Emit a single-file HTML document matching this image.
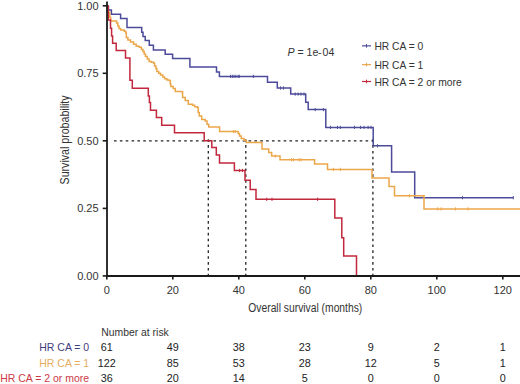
<!DOCTYPE html>
<html><head><meta charset="utf-8"><style>
html,body{margin:0;padding:0;background:#fff;}
body{width:520px;height:384px;overflow:hidden;font-family:"Liberation Sans",sans-serif;}
svg{display:block;}
</style></head><body>
<svg width="520" height="384" viewBox="0 0 520 384">
<rect width="520" height="384" fill="#fff"/>
<g stroke="#222" stroke-width="1.3" stroke-dasharray="2.6 3.25" fill="none">
<line x1="114" y1="140.8" x2="373" y2="140.8"/>
<line x1="208.3" y1="139.2" x2="208.3" y2="275"/>
<line x1="245.8" y1="139.2" x2="245.8" y2="275"/>
<line x1="372.9" y1="139.2" x2="372.9" y2="275"/>
</g>
<g fill="none" stroke-width="1.5" stroke-linejoin="miter">
<path d="M107,5.9 H108.4 V9.9 H111.4 V14.3 H120.6 V18.4 H127 V27.6 H141.7 V32.3 H143 V36.4 H145.2 V40.5 H149.3 V45.2 H153.4 V49.9 H165.2 V54.3 H172.6 V58.5 H189.9 V67 H216.5 V72 H219.4 V76.4 H267.5 V82.3 H277.3 V88 H290.7 V94.1 H305.7 V102.2 H308.2 V109.6 H325.8 V127.4 H373.2 V145.8 H391.6 V171.9 H414.7 V197.7 H513.3" stroke="#4c4b9a"/>
<path d="M107,5.9 H108.2 V12.3 H109.8 V17.3 H110.7 V20.9 H116.6 V23 H117.8 V26 H119 V28.5 H120.6 V30 H124.2 V31.2 H125.8 V33 H126.3 V37.4 H127.9 V40 H130.5 V42.1 H133.6 V44.2 H136.2 V46.2 H139.3 V47.3 H141.4 V49.4 H143 V51.5 H144.2 V54 H145.5 V56.4 H147.3 V59.1 H149.1 V61.4 H151.4 V62.3 H153.7 V63.2 H154.6 V66 H156 V68.7 H156.9 V71.4 H158.7 V73.2 H160.5 V75.1 H162.8 V76.9 H164.6 V78.7 H166.9 V80.1 H169.2 V80.6 H170.3 V84 H170.8 V86.5 H173.2 V88.5 H175.3 V91.6 H181.6 V91.8 H182.6 V97.4 H185.2 V100.5 H188.3 V104.2 H192.5 V105.2 H194.6 V106.8 H197.5 V107.8 H198.2 V112.6 H199.3 V116.1 H201.7 V119.6 H205.2 V121 H207 V124.3 H208.7 V126.9 H219.6 V131.5 H238.2 V133.5 H239.5 V136 H241.2 V138.4 H244 V140.3 H246.3 V142.4 H262 V149.1 H268.7 V152.6 H271.7 V156.1 H280 V159.8 H314.6 V164 H327.5 V169.4 H372 V177.9 H389 V186.4 H394.5 V195.8 H424 V208.9 H520 V208.9" stroke="#eca64a"/>
<path d="M107,5.9 H108.3 V20 H110.5 V28.2 H111.6 V36 H112.6 V43.2 H116.2 V50.5 H125.5 V58.1 H129.9 V80.2 H132.3 V88.2 H148.3 V96.1 H149.4 V102.6 H150.5 V110.2 H156.4 V117.6 H161.7 V125.3 H174.5 V132.7 H204.2 V140.8 H211.8 V147.5 H216.3 V155 H219.5 V163 H234.4 V170.5 H245 V180.2 H250.2 V189.6 H256 V199.3 H334.8 V218 H341.8 V237.7 H343.7 V256 H356.5 V275.7" stroke="#c2283c"/>
<line x1="239.6" y1="168.9" x2="239.6" y2="172.1" stroke="#c2283c" stroke-width="1"/><line x1="242.5" y1="168.9" x2="242.5" y2="172.1" stroke="#c2283c" stroke-width="1"/><line x1="266.7" y1="197.70000000000002" x2="266.7" y2="200.9" stroke="#c2283c" stroke-width="1"/><line x1="272" y1="197.70000000000002" x2="272" y2="200.9" stroke="#c2283c" stroke-width="1"/><line x1="317.6" y1="197.70000000000002" x2="317.6" y2="200.9" stroke="#c2283c" stroke-width="1"/><line x1="233.4" y1="129.9" x2="233.4" y2="133.1" stroke="#eca64a" stroke-width="1"/><line x1="235.2" y1="129.9" x2="235.2" y2="133.1" stroke="#eca64a" stroke-width="1"/><line x1="275.2" y1="154.5" x2="275.2" y2="157.7" stroke="#eca64a" stroke-width="1"/><line x1="291.5" y1="158.20000000000002" x2="291.5" y2="161.4" stroke="#eca64a" stroke-width="1"/><line x1="293.5" y1="158.20000000000002" x2="293.5" y2="161.4" stroke="#eca64a" stroke-width="1"/><line x1="299.2" y1="158.20000000000002" x2="299.2" y2="161.4" stroke="#eca64a" stroke-width="1"/><line x1="301.2" y1="158.20000000000002" x2="301.2" y2="161.4" stroke="#eca64a" stroke-width="1"/><line x1="333.4" y1="167.8" x2="333.4" y2="171.0" stroke="#eca64a" stroke-width="1"/><line x1="340.4" y1="167.8" x2="340.4" y2="171.0" stroke="#eca64a" stroke-width="1"/><line x1="409.4" y1="194.20000000000002" x2="409.4" y2="197.4" stroke="#eca64a" stroke-width="1"/><line x1="437.7" y1="207.3" x2="437.7" y2="210.5" stroke="#eca64a" stroke-width="1"/><line x1="441.1" y1="207.3" x2="441.1" y2="210.5" stroke="#eca64a" stroke-width="1"/><line x1="455.6" y1="207.3" x2="455.6" y2="210.5" stroke="#eca64a" stroke-width="1"/><line x1="468" y1="207.3" x2="468" y2="210.5" stroke="#eca64a" stroke-width="1"/><line x1="230.5" y1="74.80000000000001" x2="230.5" y2="78.0" stroke="#4c4b9a" stroke-width="1"/><line x1="232.3" y1="74.80000000000001" x2="232.3" y2="78.0" stroke="#4c4b9a" stroke-width="1"/><line x1="234" y1="74.80000000000001" x2="234" y2="78.0" stroke="#4c4b9a" stroke-width="1"/><line x1="235.8" y1="74.80000000000001" x2="235.8" y2="78.0" stroke="#4c4b9a" stroke-width="1"/><line x1="238.1" y1="74.80000000000001" x2="238.1" y2="78.0" stroke="#4c4b9a" stroke-width="1"/><line x1="239.3" y1="74.80000000000001" x2="239.3" y2="78.0" stroke="#4c4b9a" stroke-width="1"/><line x1="253.4" y1="74.80000000000001" x2="253.4" y2="78.0" stroke="#4c4b9a" stroke-width="1"/><line x1="280.5" y1="86.4" x2="280.5" y2="89.6" stroke="#4c4b9a" stroke-width="1"/><line x1="283.4" y1="86.4" x2="283.4" y2="89.6" stroke="#4c4b9a" stroke-width="1"/><line x1="295.2" y1="92.5" x2="295.2" y2="95.69999999999999" stroke="#4c4b9a" stroke-width="1"/><line x1="298.1" y1="92.5" x2="298.1" y2="95.69999999999999" stroke="#4c4b9a" stroke-width="1"/><line x1="301" y1="92.5" x2="301" y2="95.69999999999999" stroke="#4c4b9a" stroke-width="1"/><line x1="304" y1="92.5" x2="304" y2="95.69999999999999" stroke="#4c4b9a" stroke-width="1"/><line x1="315.2" y1="108.0" x2="315.2" y2="111.19999999999999" stroke="#4c4b9a" stroke-width="1"/><line x1="323.4" y1="108.0" x2="323.4" y2="111.19999999999999" stroke="#4c4b9a" stroke-width="1"/><line x1="330.5" y1="125.80000000000001" x2="330.5" y2="129.0" stroke="#4c4b9a" stroke-width="1"/><line x1="337.5" y1="125.80000000000001" x2="337.5" y2="129.0" stroke="#4c4b9a" stroke-width="1"/><line x1="340.4" y1="125.80000000000001" x2="340.4" y2="129.0" stroke="#4c4b9a" stroke-width="1"/><line x1="354.5" y1="125.80000000000001" x2="354.5" y2="129.0" stroke="#4c4b9a" stroke-width="1"/><line x1="360.5" y1="125.80000000000001" x2="360.5" y2="129.0" stroke="#4c4b9a" stroke-width="1"/><line x1="364" y1="125.80000000000001" x2="364" y2="129.0" stroke="#4c4b9a" stroke-width="1"/><line x1="368.1" y1="125.80000000000001" x2="368.1" y2="129.0" stroke="#4c4b9a" stroke-width="1"/><line x1="371" y1="125.80000000000001" x2="371" y2="129.0" stroke="#4c4b9a" stroke-width="1"/><line x1="377.5" y1="144.20000000000002" x2="377.5" y2="147.4" stroke="#4c4b9a" stroke-width="1"/><line x1="462.5" y1="196.1" x2="462.5" y2="199.29999999999998" stroke="#4c4b9a" stroke-width="1"/><line x1="513.3" y1="196.1" x2="513.3" y2="199.29999999999998" stroke="#4c4b9a" stroke-width="1"/>
</g>
<g stroke="#1a1a1a" stroke-width="2" fill="none">
<line x1="107" y1="1.5" x2="107" y2="276.6" stroke-width="1.8"/>
<line x1="106" y1="275.9" x2="520" y2="275.9"/>
</g><g stroke="#1a1a1a" stroke-width="1.6">
<line x1="102.7" y1="5.8" x2="107" y2="5.8"/>
<line x1="102.7" y1="73.3" x2="107" y2="73.3"/>
<line x1="102.7" y1="140.8" x2="107" y2="140.8"/>
<line x1="102.7" y1="208.4" x2="107" y2="208.4"/>
<line x1="102.7" y1="275.9" x2="107" y2="275.9"/>
<line x1="106.8" y1="275.6" x2="106.8" y2="279.6"/>
<line x1="172.8" y1="275.6" x2="172.8" y2="279.6"/>
<line x1="238.8" y1="275.6" x2="238.8" y2="279.6"/>
<line x1="304.8" y1="275.6" x2="304.8" y2="279.6"/>
<line x1="370.8" y1="275.6" x2="370.8" y2="279.6"/>
<line x1="436.8" y1="275.6" x2="436.8" y2="279.6"/>
<line x1="502.8" y1="275.6" x2="502.8" y2="279.6"/>
</g>
<g font-family="Liberation Sans, sans-serif" font-size="11" fill="#333">
<text x="98.6" y="9.6" text-anchor="end">1.00</text>
<text x="98.6" y="77.1" text-anchor="end">0.75</text>
<text x="98.6" y="144.6" text-anchor="end">0.50</text>
<text x="98.6" y="212.2" text-anchor="end">0.25</text>
<text x="98.6" y="279.7" text-anchor="end">0.00</text>
<text x="106.8" y="293.5" text-anchor="middle">0</text>
<text x="172.8" y="293.5" text-anchor="middle">20</text>
<text x="238.8" y="293.5" text-anchor="middle">40</text>
<text x="304.8" y="293.5" text-anchor="middle">60</text>
<text x="370.8" y="293.5" text-anchor="middle">80</text>
<text x="436.8" y="293.5" text-anchor="middle">100</text>
<text x="502.8" y="293.5" text-anchor="middle">120</text>
</g>
<text font-family="Liberation Sans, sans-serif" font-size="12.5" fill="#333" x="248.3" y="311.5" textLength="114" lengthAdjust="spacingAndGlyphs">Overall survival (months)</text>
<text font-family="Liberation Sans, sans-serif" font-size="12.5" fill="#333" transform="translate(69.2,184.4) rotate(-90)" textLength="89" lengthAdjust="spacingAndGlyphs">Survival probability</text>
<text font-family="Liberation Sans, sans-serif" font-size="10.6" fill="#333" x="287.4" y="55.5"><tspan font-style="italic">P</tspan> = 1e<tspan x="317.9">-</tspan><tspan x="322.5">04</tspan></text>
<line x1="362" y1="45.85" x2="371" y2="45.85" stroke="#4c4b9a" stroke-width="1.2"/>
<line x1="366.5" y1="44.050000000000004" x2="366.5" y2="47.65" stroke="#4c4b9a" stroke-width="1"/>
<text font-family="Liberation Sans, sans-serif" font-size="10.3" fill="#333" x="374.4" y="49.95">HR CA = 0</text>
<line x1="362" y1="64.65" x2="371" y2="64.65" stroke="#eca64a" stroke-width="1.2"/>
<line x1="366.5" y1="62.85000000000001" x2="366.5" y2="66.45" stroke="#eca64a" stroke-width="1"/>
<text font-family="Liberation Sans, sans-serif" font-size="10.3" fill="#333" x="374.4" y="68.75">HR CA = 1</text>
<line x1="362" y1="81.5" x2="371" y2="81.5" stroke="#c2283c" stroke-width="1.2"/>
<line x1="366.5" y1="79.7" x2="366.5" y2="83.3" stroke="#c2283c" stroke-width="1"/>
<text font-family="Liberation Sans, sans-serif" font-size="10.3" fill="#333" x="374.4" y="85.6">HR CA = 2 or more</text>
<text font-family="Liberation Sans, sans-serif" font-size="10.8" fill="#333" x="101.2" y="336.3" textLength="67.6" lengthAdjust="spacingAndGlyphs">Number at risk</text>
<text font-family="Liberation Sans, sans-serif" font-size="10.5" fill="#3f3d7c" x="89.2" y="351.3" text-anchor="end">HR CA = 0</text>
<text font-family="Liberation Sans, sans-serif" font-size="10.8" fill="#222" x="106.8" y="351.3" text-anchor="middle">61</text>
<text font-family="Liberation Sans, sans-serif" font-size="10.8" fill="#222" x="172.8" y="351.3" text-anchor="middle">49</text>
<text font-family="Liberation Sans, sans-serif" font-size="10.8" fill="#222" x="238.8" y="351.3" text-anchor="middle">38</text>
<text font-family="Liberation Sans, sans-serif" font-size="10.8" fill="#222" x="304.8" y="351.3" text-anchor="middle">23</text>
<text font-family="Liberation Sans, sans-serif" font-size="10.8" fill="#222" x="370.8" y="351.3" text-anchor="middle">9</text>
<text font-family="Liberation Sans, sans-serif" font-size="10.8" fill="#222" x="436.8" y="351.3" text-anchor="middle">2</text>
<text font-family="Liberation Sans, sans-serif" font-size="10.8" fill="#222" x="502.8" y="351.3" text-anchor="middle">1</text>
<text font-family="Liberation Sans, sans-serif" font-size="10.5" fill="#e5ad60" x="89.2" y="366.65000000000003" text-anchor="end">HR CA = 1</text>
<text font-family="Liberation Sans, sans-serif" font-size="10.8" fill="#222" x="106.8" y="366.65000000000003" text-anchor="middle">122</text>
<text font-family="Liberation Sans, sans-serif" font-size="10.8" fill="#222" x="172.8" y="366.65000000000003" text-anchor="middle">85</text>
<text font-family="Liberation Sans, sans-serif" font-size="10.8" fill="#222" x="238.8" y="366.65000000000003" text-anchor="middle">53</text>
<text font-family="Liberation Sans, sans-serif" font-size="10.8" fill="#222" x="304.8" y="366.65000000000003" text-anchor="middle">28</text>
<text font-family="Liberation Sans, sans-serif" font-size="10.8" fill="#222" x="370.8" y="366.65000000000003" text-anchor="middle">12</text>
<text font-family="Liberation Sans, sans-serif" font-size="10.8" fill="#222" x="436.8" y="366.65000000000003" text-anchor="middle">5</text>
<text font-family="Liberation Sans, sans-serif" font-size="10.8" fill="#222" x="502.8" y="366.65000000000003" text-anchor="middle">1</text>
<text font-family="Liberation Sans, sans-serif" font-size="10.5" fill="#cc3a48" x="89.2" y="382.0" text-anchor="end">HR CA = 2 or more</text>
<text font-family="Liberation Sans, sans-serif" font-size="10.8" fill="#222" x="106.8" y="382.0" text-anchor="middle">36</text>
<text font-family="Liberation Sans, sans-serif" font-size="10.8" fill="#222" x="172.8" y="382.0" text-anchor="middle">20</text>
<text font-family="Liberation Sans, sans-serif" font-size="10.8" fill="#222" x="238.8" y="382.0" text-anchor="middle">14</text>
<text font-family="Liberation Sans, sans-serif" font-size="10.8" fill="#222" x="304.8" y="382.0" text-anchor="middle">5</text>
<text font-family="Liberation Sans, sans-serif" font-size="10.8" fill="#222" x="370.8" y="382.0" text-anchor="middle">0</text>
<text font-family="Liberation Sans, sans-serif" font-size="10.8" fill="#222" x="436.8" y="382.0" text-anchor="middle">0</text>
<text font-family="Liberation Sans, sans-serif" font-size="10.8" fill="#222" x="502.8" y="382.0" text-anchor="middle">0</text>
</svg>
</body></html>
